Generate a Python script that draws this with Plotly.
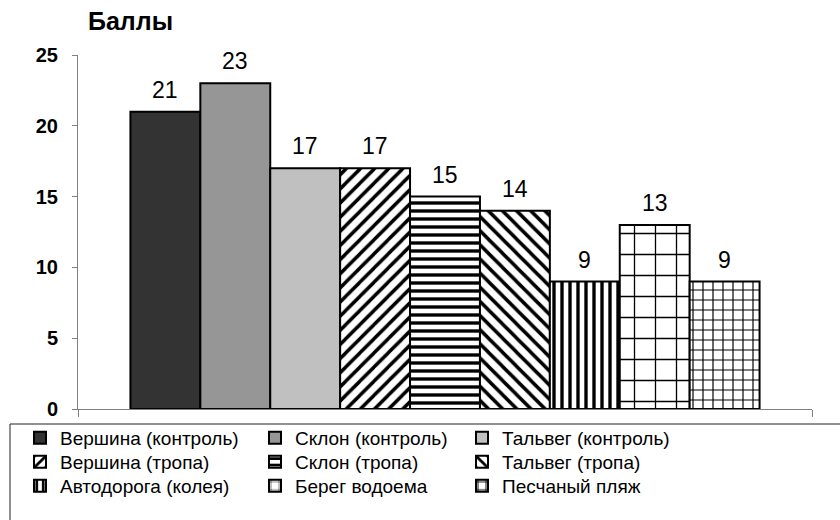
import plotly.graph_objects as go

# Soil scores by site
categories = ["Вершина (контроль)", "Склон (контроль)", "Тальвег (контроль)",
              "Вершина (тропа)", "Склон (тропа)", "Тальвег (тропа)",
              "Автодорога (колея)", "Берег водоема", "Песчаный пляж"]
scores = [21, 23, 17, 17, 15, 14, 9, 13, 9]
y_ticks = [0, 5, 10, 15, 20, 25]
y_title = "Баллы"

# Fill style per site: (solid colour, pattern shape, pattern size, solidity)
styles = [
    ("#333333", "", 8, 0.3),
    ("#969696", "", 8, 0.3),
    ("#c0c0c0", "", 8, 0.3),
    ("white", "/", 10, 0.35),
    ("white", "-", 8, 0.42),
    ("white", "\\", 10, 0.35),
    ("white", "|", 8, 0.42),
    ("white", "+", 21, 0.12),
    ("white", "+", 10, 0.22),
]

FONT = "Arial, Liberation Sans, sans-serif"
W, H = 840, 520
# legend grid: text start x per column, row centre y (pixels)
col_x = [60, 295, 502]
row_y = [438, 462, 486]

fig = go.Figure()
legends = {}
for i, (name, val, st) in enumerate(zip(categories, scores, styles)):
    colour, shape, size, solid = st
    key = "legend" if i == 0 else f"legend{i + 1}"
    marker = dict(color=colour, line=dict(color="black", width=2))
    if shape:
        marker["pattern"] = dict(shape=shape, fgcolor="black", bgcolor="white",
                                 size=size, solidity=solid, fillmode="replace")
    fig.add_trace(go.Bar(x=[float(i)], y=[val], width=[1.0], name=name,
                         marker=marker, legend=key, hoverinfo="skip"))
    c, r = i % 3, i // 3
    legends[key] = dict(
        xref="container", yref="container",
        x=(col_x[c] - 40) / W, xanchor="left",
        y=1 - row_y[r] / H, yanchor="middle",
        bgcolor="rgba(0,0,0,0)", borderwidth=0,
        font=dict(family=FONT, size=19, color="black"),
    )
    fig.add_annotation(x=float(i), y=val, xref="x", yref="y", text=str(val),
                       showarrow=False, yanchor="bottom", yshift=7,
                       font=dict(family=FONT, size=23, color="black"))

fig.add_annotation(xref="paper", yref="paper", x=0.011, y=1.097,
                   xanchor="left", yanchor="middle", text=f"<b>{y_title}</b>",
                   showarrow=False, font=dict(family=FONT, size=25, color="black"))

# legend frame
fig.add_shape(type="rect", xref="paper", yref="paper",
              x0=(10 - 78) / 734, x1=(860 - 78) / 734,
              y0=(409 - 540) / 354, y1=(409 - 424) / 354,
              line=dict(color="#222222", width=1), fillcolor="rgba(0,0,0,0)")

fig.update_layout(
    width=W, height=H,
    margin=dict(l=78, r=28, t=55, b=111, autoexpand=False),
    paper_bgcolor="white", plot_bgcolor="white",
    barmode="overlay", showlegend=True,
    **legends,
)
fig.update_xaxes(type="linear", range=[-1.25, 9.25], autorange=False,
                 showgrid=False, zeroline=False,
                 showline=True, linecolor="#808080", linewidth=1,
                 tickmode="array", tickvals=[-1.25, 9.25], ticks="outside",
                 ticklen=7, tickcolor="#808080", showticklabels=False,
                 fixedrange=True)
fig.update_yaxes(type="linear", range=[0, 25], autorange=False,
                 tickmode="array", tickvals=y_ticks, showgrid=False,
                 zeroline=False, showline=True, linecolor="#808080", linewidth=1,
                 ticks="outside", ticklen=5, tickcolor="#808080",
                 ticklabelstandoff=10,
                 tickfont=dict(family=FONT, size=20, color="black", weight="bold"),
                 fixedrange=True)

fig.write_html("out.html")
